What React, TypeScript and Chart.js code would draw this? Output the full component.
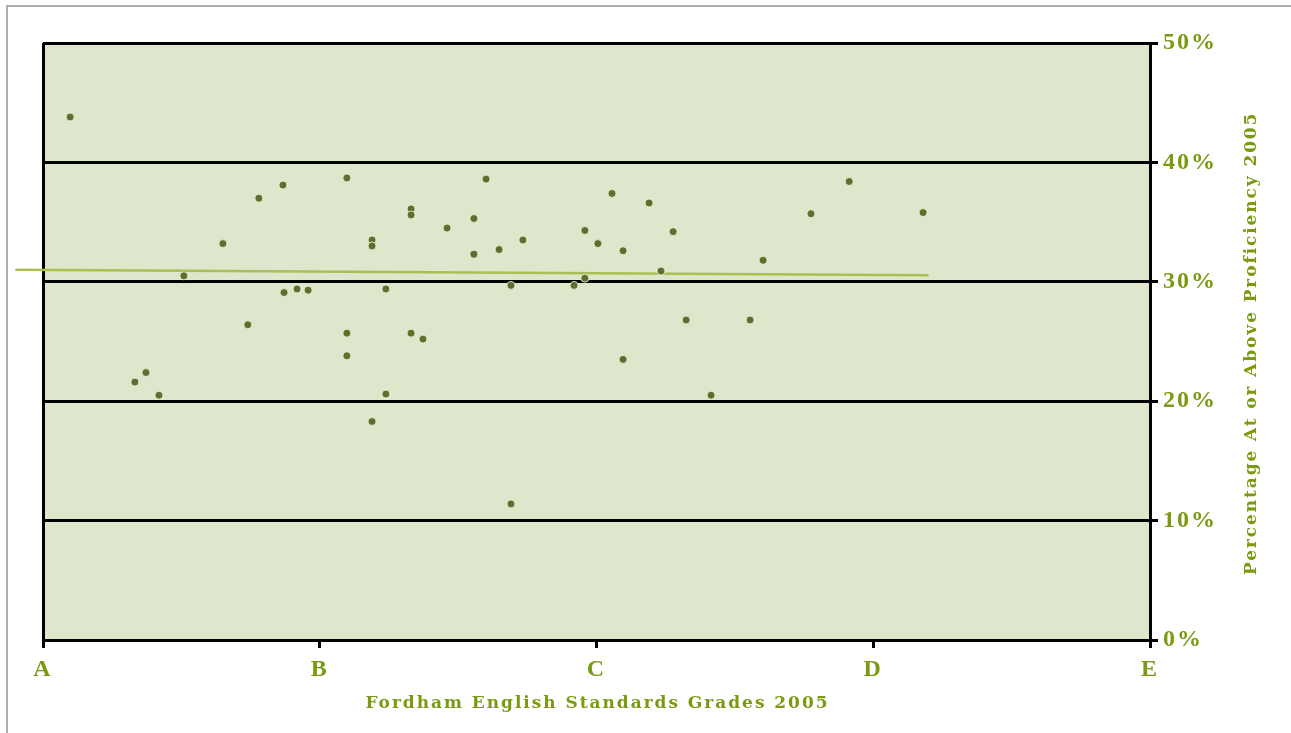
import { useEffect, useRef } from 'react';
import { Chart, registerables } from 'chart.js';

Chart.register(...registerables);

const gradeLabels = ['A', 'B', 'C', 'D', 'E'];
const yTickSuffix = '%';

const gradeScores = [
  0.098, 0.332, 0.372, 0.419, 0.509, 0.65, 0.74, 0.78, 0.867, 0.871,
  0.918, 0.958, 1.098, 1.098, 1.098, 1.189, 1.189, 1.189, 1.239, 1.239,
  1.33, 1.33, 1.33, 1.373, 1.46, 1.557, 1.557, 1.601, 1.648, 1.691,
  1.691, 1.734, 1.919, 1.958, 1.958, 2.005, 2.056, 2.096, 2.096, 2.19,
  2.233, 2.277, 2.324, 2.414, 2.555, 2.602, 2.775, 2.913, 3.18,
];
const proficiency = [
  43.8, 21.6, 22.4, 20.5, 30.5, 33.2, 26.4, 37.0, 38.1, 29.1,
  29.4, 29.3, 38.7, 25.7, 23.8, 33.5, 33.0, 18.3, 29.4, 20.6,
  36.1, 35.6, 25.7, 25.2, 34.5, 35.3, 32.3, 38.6, 32.7, 29.7,
  11.4, 33.5, 29.7, 34.3, 30.3, 33.2, 37.4, 32.6, 23.5, 36.6,
  30.9, 34.2, 26.8, 20.5, 26.8, 31.8, 35.7, 38.4, 35.8,
];
const trendX = [-0.1, 3.2];
const trendY = [31.0, 30.55];

const xTitle = 'Fordham English Standards Grades 2005';
const yTitle = 'Percentage At or Above Proficiency 2005';

const GREEN = '#7a9a10';
const FONT = '"Liberation Serif", serif';
const TITLE_FONT = '"DejaVu Serif", serif';

function drawSpaced(ctx: CanvasRenderingContext2D, text: string, cx: number, cy: number, target: number) {
  (ctx as any).letterSpacing = '0px';
  const w = ctx.measureText(text).width;
  const sp = Math.max(0, (target - w) / (text.length - 1));
  (ctx as any).letterSpacing = `${sp}px`;
  ctx.textAlign = 'left';
  ctx.textBaseline = 'middle';
  ctx.fillText(text, cx - target / 2, cy);
}

export default function App() {
  const ref = useRef<HTMLCanvasElement | null>(null);

  useEffect(() => {
    if (!ref.current) return;
    const points = gradeScores.map((x, i) => ({ x, y: proficiency[i] }));
    const trend = trendX.map((x, i) => ({ x, y: trendY[i] }));

    const bgPlugin = {
      id: 'plotBg',
      beforeDraw(chart: any) {
        const { ctx, chartArea } = chart;
        (ctx as any).letterSpacing = '2px';
        ctx.save();
        ctx.fillStyle = '#dee6cb';
        ctx.fillRect(chartArea.left, chartArea.top, chartArea.right - chartArea.left, chartArea.bottom - chartArea.top);
        ctx.restore();
      },
    };

    const titlePlugin = {
      id: 'titles',
      afterDraw(chart: any) {
        const { ctx, chartArea } = chart;
        ctx.save();
        ctx.fillStyle = GREEN;
        ctx.font = `bold 17px ${TITLE_FONT}`;
        drawSpaced(ctx, xTitle, (chartArea.left + chartArea.right) / 2, 704, 462);
        ctx.translate(1252, 345);
        ctx.rotate(-Math.PI / 2);
        drawSpaced(ctx, yTitle, 0, 0, 460);
        ctx.restore();
      },
    };

    const chart = new Chart(ref.current, {
      type: 'scatter',
      data: {
        datasets: [
          {
            type: 'line',
            data: trend,
            borderColor: '#a9bf55',
            borderWidth: 2.5,
            pointRadius: 0,
            showLine: true,
            clip: false,
            order: 2,
          } as any,
          {
            data: points,
            backgroundColor: '#5f6e2e',
            borderColor: 'rgba(245,250,220,0.8)',
            borderWidth: 1,
            pointRadius: 4,
            order: 1,
          },
        ],
      },
      plugins: [bgPlugin, titlePlugin],
      options: {
        animation: false,
        responsive: false,
        devicePixelRatio: 1,
        layout: { padding: { left: 43, top: 43, right: 0, bottom: 0 } },
        plugins: { legend: { display: false }, tooltip: { enabled: false } },
        scales: {
          x: {
            type: 'linear',
            min: 0,
            max: 4,
            afterFit(scale: any) {
              scale.height = 93;
            },
            ticks: {
              stepSize: 1,
              padding: 7,
              color: GREEN,
              font: { family: FONT, size: 24, weight: 'bold' },
              callback: (v: any) => gradeLabels[Number(v)] ?? '',
            },
            grid: {
              color: (c: any) => (c.tick && c.tick.value === 0 ? '#000' : 'rgba(0,0,0,0)'),
              tickColor: '#000',
              lineWidth: 3,
              tickLength: 8,
            },
            border: { display: true, color: '#000', width: 3 },
          },
          y: {
            type: 'linear',
            position: 'right',
            min: 0,
            max: 50,
            afterFit(scale: any) {
              scale.width = 141;
            },
            ticks: {
              stepSize: 10,
              padding: 5,
              color: GREEN,
              font: { family: FONT, size: 24, weight: 'bold' },
              callback: (v: any) => `${v}${yTickSuffix}`,
            },
            grid: {
              color: '#000',
              lineWidth: 3,
              tickLength: 8,
            },
            border: { display: true, color: '#000', width: 3 },
          },
        },
      },
    });
    return () => chart.destroy();
  }, []);

  return (
    <div style={{ position: 'absolute', left: 0, top: 0, width: 1291, height: 733, background: '#fff' }}>
      <div
        style={{
          position: 'absolute',
          left: 6,
          top: 5,
          right: 0,
          bottom: 0,
          borderTop: '2px solid #adadad',
          borderLeft: '2px solid #adadad',
        }}
      />
      <canvas ref={ref} width={1291} height={733} style={{ position: 'absolute', left: 0, top: 0 }} />
    </div>
  );
}
